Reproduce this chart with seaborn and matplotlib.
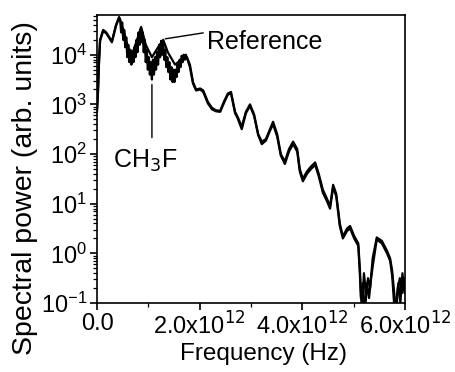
import numpy as np
import pandas as pd
import seaborn as sns
import matplotlib
matplotlib.use("Agg")
import matplotlib.pyplot as plt
from matplotlib.ticker import FixedLocator, LogLocator, NullFormatter

# Reference spectrum: frequency (THz) and log10(power)
ref_thz = [0.0, 0.02, 0.04, 0.06, 0.12, 0.18, 0.29, 0.37, 0.43, 0.53, 0.60, 0.68, 0.78, 0.86,
           0.95, 1.07, 1.19, 1.29, 1.38, 1.52, 1.64, 1.73, 1.81, 1.87, 1.93, 2.01, 2.07, 2.16,
           2.24, 2.32, 2.40, 2.47, 2.55, 2.61, 2.69, 2.74, 2.82, 2.90, 2.98, 3.06, 3.14, 3.21,
           3.29, 3.37, 3.43, 3.51, 3.58, 3.66, 3.74, 3.82, 3.90, 3.95, 4.01, 4.09, 4.17, 4.25,
           4.32, 4.40, 4.48, 4.54, 4.60, 4.66, 4.73, 4.79, 4.87, 4.93, 5.01, 5.09, 5.12, 5.16,
           5.20, 5.24, 5.28, 5.32, 5.37, 5.45, 5.55, 5.65, 5.71, 5.75, 5.79, 5.83, 5.86, 5.90,
           5.94, 5.98, 6.0]
ref_log = [2.9, 3.3, 3.9, 4.3, 4.5, 4.45, 4.27, 4.6, 4.76, 4.45, 4.15, 4.0, 4.3, 4.56,
           4.2, 3.95, 4.15, 4.3, 4.05, 3.8, 3.9, 4.0, 3.8, 3.45, 3.3, 3.32, 3.28, 3.05,
           2.93, 2.88, 2.87, 3.05, 3.22, 3.25, 2.85, 2.75, 2.55, 2.85, 3.0, 2.8, 2.4, 2.25,
           2.3, 2.5, 2.65, 2.4, 2.0, 1.85, 2.1, 2.25, 2.1, 1.7, 1.5, 1.65, 1.75, 1.83,
           1.6, 1.28, 1.1, 0.95, 1.38, 1.2, 0.6, 0.34, 0.5, 0.55, 0.35, 0.2, -0.3, -1.2,
           -0.4, -0.8, -0.5, -0.7, -0.1, 0.32, 0.25, 0.05, -0.1, -0.35, -0.8, -1.2, -0.7, -0.5,
           -0.8, -0.5, -0.7]

# CH3F spectrum: frequency (THz) and log10(power)
ch3f_thz = [0.0, 0.02, 0.04, 0.06, 0.12, 0.18, 0.29, 0.37, 0.43,
            0.45, 0.47, 0.49, 0.51, 0.53, 0.55, 0.57, 0.59, 0.61, 0.63, 0.65, 0.67, 0.69, 0.71,
            0.73, 0.75, 0.77, 0.79, 0.81, 0.83, 0.85, 0.87, 0.89, 0.91, 0.93, 0.95, 0.97, 0.99,
            1.01, 1.03, 1.05, 1.07, 1.09, 1.11, 1.13, 1.15, 1.17, 1.19, 1.21, 1.23, 1.25, 1.27,
            1.29, 1.31, 1.33, 1.35, 1.37, 1.39, 1.41, 1.43, 1.45, 1.47, 1.49, 1.51, 1.53, 1.55,
            1.57, 1.59, 1.61, 1.63, 1.65, 1.67, 1.69, 1.71,
            1.75, 1.81, 1.87, 1.93, 2.01, 2.07, 2.16, 2.24, 2.32, 2.40, 2.47, 2.55, 2.61,
            2.69, 2.74, 2.82, 2.90, 2.98, 3.06, 3.14, 3.21, 3.29, 3.37, 3.43, 3.51, 3.58, 3.66,
            3.74, 3.82, 3.90, 3.95, 4.01, 4.09, 4.17, 4.25, 4.32, 4.40, 4.48, 4.54, 4.60, 4.66,
            4.73, 4.79, 4.87, 4.93, 5.01, 5.09, 5.12, 5.14, 5.18, 5.22, 5.26, 5.30, 5.34, 5.38,
            5.45, 5.55, 5.65, 5.71, 5.75, 5.80, 5.84, 5.87, 5.91, 5.95, 5.99]
ch3f_log = [2.85, 3.25, 3.85, 4.28, 4.48, 4.43, 4.25, 4.58, 4.74,
            4.72, 4.45, 4.65, 4.3, 4.5, 4.15, 4.35, 3.95, 4.2, 3.85, 4.1, 3.8, 4.05, 3.85,
            4.15, 3.95, 4.3, 4.05, 4.45, 4.2, 4.52, 4.25, 4.45, 4.05, 4.3, 3.85, 4.1, 3.7,
            3.95, 3.6, 3.85, 3.5, 3.9, 3.6, 3.95, 3.7, 4.05, 3.8, 4.2, 3.95, 4.28, 4.0,
            4.25, 3.9, 4.1, 3.75, 3.95, 3.65, 3.85, 3.5, 3.75, 3.45, 3.7, 3.45, 3.7, 3.55,
            3.8, 3.65, 3.9, 3.75, 3.98, 3.85, 4.0, 3.9,
            3.95, 3.75, 3.42, 3.28, 3.3, 3.25, 3.02, 2.9, 2.86, 2.85, 3.02, 3.2, 3.22,
            2.82, 2.72, 2.5, 2.82, 2.97, 2.77, 2.38, 2.2, 2.27, 2.47, 2.6, 2.35, 1.97, 1.8,
            2.05, 2.2, 2.05, 1.65, 1.45, 1.6, 1.7, 1.78, 1.55, 1.22, 1.05, 0.9, 1.33, 1.15,
            0.55, 0.3, 0.45, 0.5, 0.3, 0.15, -0.4, -0.9, -0.6, -1.2, -0.6, -0.9, -0.5, -0.2,
            0.28, 0.2, 0.0, -0.15, -0.45, -1.2, -0.9, -0.6, -1.0, -0.4, -0.8]

x_ticks = [0.0, 2.0, 4.0, 6.0]
x_tick_labels = ["0.0", "2.0x10$^{12}$", "4.0x10$^{12}$", "6.0x10$^{12}$"]

df = pd.concat([
    pd.DataFrame({"f": np.array(ref_thz) * 1e12, "p": 10.0 ** np.array(ref_log), "s": "Reference"}),
    pd.DataFrame({"f": np.array(ch3f_thz) * 1e12, "p": 10.0 ** np.array(ch3f_log), "s": "CH3F"}),
])

sns.set_theme(style="ticks")
plt.rcParams["font.family"] = ["Liberation Sans", "DejaVu Sans"]

fig = plt.figure(figsize=(4.55, 3.72), dpi=100)
ax = fig.add_axes([97 / 455, 1 - 303 / 372, (405 - 97) / 455, (303 - 15) / 372])

sns.lineplot(data=df, x="f", y="p", hue="s", palette={"Reference": "black", "CH3F": "black"},
             sort=False, estimator=None, linewidth=1.6, legend=False, ax=ax)

ax.set_yscale("log")
ax.set_xlim(0, 6e12)
ax.set_ylim(1e-1, 10 ** 4.8)

ax.xaxis.set_major_locator(FixedLocator([v * 1e12 for v in x_ticks]))
ax.set_xticklabels(x_tick_labels)
ax.xaxis.set_minor_locator(FixedLocator([1e12, 3e12, 5e12]))
ax.yaxis.set_major_locator(LogLocator(base=10, numticks=10))
ax.yaxis.set_minor_locator(LogLocator(base=10, subs=np.arange(2, 10), numticks=20))
ax.yaxis.set_minor_formatter(NullFormatter())

ax.tick_params(axis="both", which="major", direction="out", length=5, width=1.2,
               labelsize=17, color="black", labelcolor="black", pad=2)
ax.tick_params(axis="both", which="minor", direction="out", length=3, width=0.9, color="black")
for sp in ax.spines.values():
    sp.set_visible(True)
    sp.set_color("black")
    sp.set_linewidth(1.2)

ax.set_xlabel("Frequency (Hz)", fontsize=17.5, color="black")
ax.xaxis.set_label_coords(0.542, -0.14)
ax.set_ylabel("Spectral power (arb. units)", fontsize=20.5, color="black")
ax.yaxis.set_label_coords(-0.19, 0.40)

# annotations
ax.annotate("", xy=(1.33e12, 10 ** 4.32), xytext=(2.07e12, 10 ** 4.44),
            arrowprops=dict(arrowstyle="-", color="black", lw=1.0, shrinkA=0, shrinkB=0))
ax.text(2.14e12, 10 ** 4.25, "Reference", fontsize=18, va="center", ha="left", color="black")
ax.annotate("", xy=(1.07e12, 10 ** 3.4), xytext=(1.07e12, 10 ** 2.33),
            arrowprops=dict(arrowstyle="-", color="black", lw=1.0, shrinkA=0, shrinkB=0))
ax.text(0.94e12, 10 ** 2.12, "CH$_3$F", fontsize=18, va="top", ha="center", color="black")

fig.savefig("out.png", dpi=100)
